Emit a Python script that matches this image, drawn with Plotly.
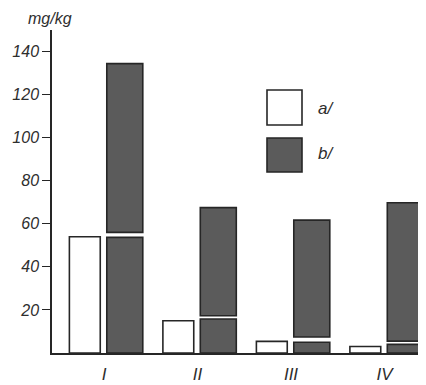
import plotly.graph_objects as go

categories = ["I", "II", "III", "IV"]
a_values = [54, 15, 5.4, 3]
b_lower = [53.7, 15.8, 5, 4]
b_upper_base = [56, 17.3, 7.4, 5.5]
b_upper_top = [134.4, 67.5, 61.7, 69.8]
y_ticks = [20, 40, 60, 80, 100, 120, 140]

dark = "#5b5b5b"
edge = "#262626"
txt = "#2e2e2e"
font_fam = "Liberation Sans"

fig = go.Figure()
fig.add_bar(x=categories, y=a_values, offset=-0.37, width=0.33,
            marker=dict(color="white", line=dict(color=edge, width=1.6)), name="a/")
fig.add_bar(x=categories, y=b_lower, offset=0.03, width=0.385,
            marker=dict(color=dark, line=dict(color=edge, width=1.6)), name="b/")
fig.add_bar(x=categories, y=[t - b for t, b in zip(b_upper_top, b_upper_base)],
            base=b_upper_base, offset=0.03, width=0.385,
            marker=dict(color=dark, line=dict(color=edge, width=1.6)), showlegend=False)

# page has an 8px body margin: figure placed at (8, 8)
fig.update_layout(
    width=418, height=377,
    margin=dict(l=44, r=0, t=22, b=32, autoexpand=False),
    paper_bgcolor="white", plot_bgcolor="white",
    barmode="overlay", showlegend=False,
    font=dict(family=font_fam, color=txt, size=16, style="italic"),
    xaxis=dict(range=[-0.556, 3.444], showgrid=False, zeroline=False,
               showline=True, linecolor=edge, linewidth=1.5, automargin=False,
               ticks="", tickfont=dict(size=17, style="italic"),
               ticklabelstandoff=5),
    yaxis=dict(range=[0, 150], tickvals=y_ticks, showgrid=False, zeroline=False,
               showline=True, linecolor=edge, linewidth=1.5, automargin=False,
               ticks="outside", ticklen=8, tickcolor=edge, tickwidth=1.2,
               tickfont=dict(size=16, style="italic")),
)

W = 426 - 52
H = 353 - 30
def px(xp):
    return (xp - 52) / W
def py(yp):
    return (353 - yp) / H

# unit label
fig.add_annotation(text="mg/kg", xref="paper", yref="paper", x=px(50), y=py(18),
                   xanchor="center", yanchor="middle", showarrow=False,
                   font=dict(size=16, style="italic", color=txt))

# legend boxes
fig.add_shape(type="rect", xref="paper", yref="paper",
              x0=px(267), x1=px(302), y0=py(125), y1=py(90),
              fillcolor="white", line=dict(color=edge, width=1.6))
fig.add_shape(type="rect", xref="paper", yref="paper",
              x0=px(267), x1=px(302), y0=py(172), y1=py(138),
              fillcolor=dark, line=dict(color=edge, width=1.6))
fig.add_annotation(text="a/", xref="paper", yref="paper", x=px(316), y=py(108),
                   xanchor="left", yanchor="middle", showarrow=False,
                   font=dict(size=17, style="italic", color=txt))
fig.add_annotation(text="b/", xref="paper", yref="paper", x=px(316), y=py(153),
                   xanchor="left", yanchor="middle", showarrow=False,
                   font=dict(size=17, style="italic", color=txt))

fig.write_html("out.html")
